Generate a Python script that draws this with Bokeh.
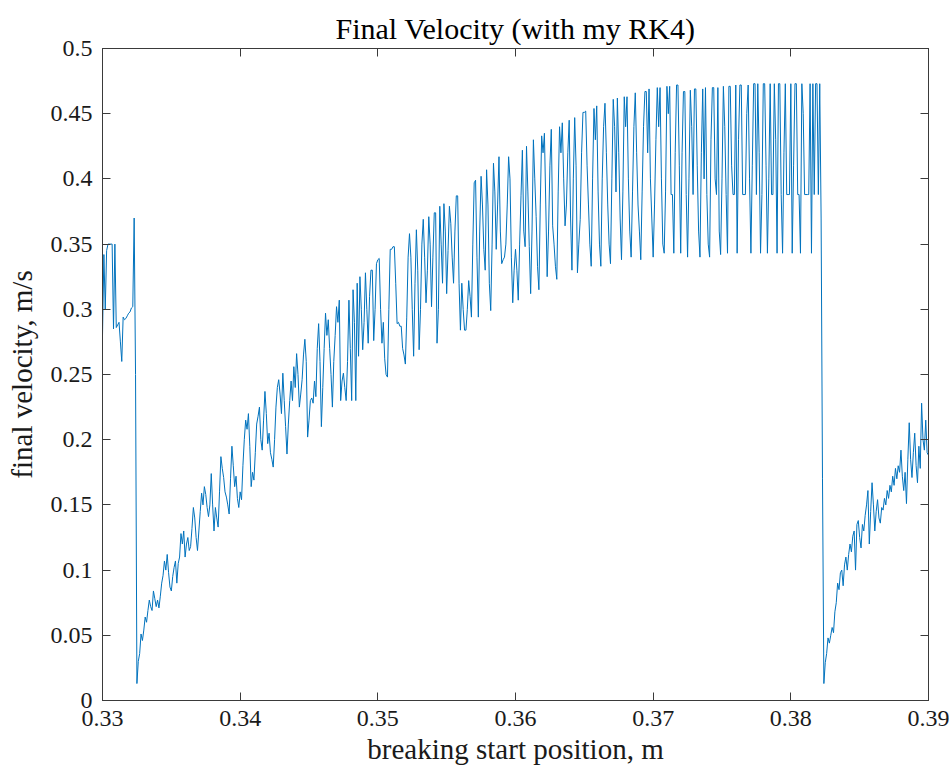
from bokeh.plotting import figure
from bokeh.models import Range1d, LinearAxis, FixedTicker, CustomJSTickFormatter
from bokeh.embed import file_html
from bokeh.resources import INLINE

# breaking start position grid (m): start and sampling step
x_start = 0.33
x_step = 0.0001

# final velocity (m/s) before the first collapse (0.3300 .. 0.3329)
v_before = [
    0.280, 0.342, 0.300, 0.345, 0.350, 0.350, 0.350, 0.350, 0.285, 0.350,
    0.286, 0.288, 0.290, 0.275, 0.260, 0.294, 0.292, 0.293, 0.295, 0.297,
    0.298, 0.301, 0.302, 0.370, 0.250, 0.013, 0.030, 0.036, 0.051, 0.046,
]

# rising band (0.3330 .. 0.3819)
v_rise = [
    0.054, 0.064, 0.060, 0.069, 0.077, 0.072, 0.069, 0.084, 0.078, 0.072,
    0.077, 0.071, 0.080, 0.090, 0.096, 0.107, 0.100, 0.112, 0.098, 0.087,
    0.084, 0.095, 0.102, 0.107, 0.090, 0.105, 0.110, 0.128, 0.120, 0.130,
    0.110, 0.120, 0.125, 0.115, 0.118, 0.132, 0.148, 0.140, 0.125, 0.115,
    0.130, 0.145, 0.159, 0.150, 0.164, 0.158, 0.148, 0.141, 0.150, 0.174,
    0.150, 0.130, 0.148, 0.140, 0.133, 0.160, 0.187, 0.178, 0.171, 0.160,
    0.156, 0.150, 0.143, 0.170, 0.195, 0.180, 0.164, 0.172, 0.155, 0.148,
    0.160, 0.154, 0.180, 0.200, 0.215, 0.208, 0.220, 0.195, 0.164, 0.175,
    0.169, 0.190, 0.212, 0.218, 0.225, 0.200, 0.192, 0.215, 0.237, 0.220,
    0.197, 0.205, 0.190, 0.185, 0.179, 0.200, 0.225, 0.240, 0.246, 0.235,
    0.220, 0.251, 0.230, 0.210, 0.189, 0.212, 0.230, 0.245, 0.230, 0.256,
    0.240, 0.266, 0.250, 0.225, 0.235, 0.246, 0.265, 0.277, 0.260, 0.202,
    0.215, 0.230, 0.232, 0.228, 0.245, 0.233, 0.270, 0.289, 0.260, 0.210,
    0.240, 0.270, 0.297, 0.280, 0.292, 0.270, 0.250, 0.225, 0.260, 0.280,
    0.302, 0.290, 0.307, 0.230, 0.245, 0.251, 0.240, 0.230, 0.260, 0.307,
    0.270, 0.230, 0.315, 0.290, 0.230, 0.320, 0.264, 0.325, 0.300, 0.269,
    0.290, 0.328, 0.300, 0.274, 0.310, 0.330, 0.330, 0.276, 0.300, 0.335,
    0.338, 0.339, 0.300, 0.274, 0.290, 0.262, 0.250, 0.248, 0.300, 0.346,
    0.346, 0.348, 0.348, 0.320, 0.289, 0.290, 0.287, 0.287, 0.270, 0.265,
    0.258, 0.294, 0.340, 0.358, 0.340, 0.300, 0.264, 0.320, 0.361, 0.330,
    0.269, 0.300, 0.350, 0.369, 0.340, 0.305, 0.330, 0.371, 0.350, 0.302,
    0.340, 0.374, 0.374, 0.274, 0.300, 0.379, 0.350, 0.320, 0.381, 0.360,
    0.312, 0.345, 0.379, 0.366, 0.340, 0.320, 0.360, 0.387, 0.387, 0.320,
    0.284, 0.320, 0.300, 0.284, 0.284, 0.300, 0.322, 0.310, 0.294, 0.350,
    0.397, 0.399, 0.340, 0.294, 0.360, 0.402, 0.380, 0.346, 0.330, 0.407,
    0.380, 0.320, 0.299, 0.350, 0.412, 0.390, 0.346, 0.380, 0.417, 0.360,
    0.335, 0.338, 0.340, 0.350, 0.380, 0.417, 0.400, 0.340, 0.305, 0.330,
    0.346, 0.330, 0.307, 0.350, 0.387, 0.422, 0.360, 0.348, 0.425, 0.390,
    0.348, 0.312, 0.360, 0.430, 0.400, 0.371, 0.333, 0.315, 0.380, 0.433,
    0.420, 0.435, 0.380, 0.325, 0.360, 0.410, 0.438, 0.364, 0.350, 0.333,
    0.323, 0.390, 0.440, 0.420, 0.443, 0.400, 0.364, 0.380, 0.420, 0.445,
    0.370, 0.330, 0.400, 0.447, 0.410, 0.328, 0.350, 0.369, 0.420, 0.451,
    0.451, 0.452, 0.410, 0.380, 0.350, 0.333, 0.400, 0.454, 0.430, 0.456,
    0.390, 0.350, 0.333, 0.400, 0.440, 0.458, 0.420, 0.380, 0.350, 0.335,
    0.400, 0.461, 0.440, 0.390, 0.462, 0.420, 0.370, 0.338, 0.390, 0.463,
    0.440, 0.463, 0.400, 0.360, 0.340, 0.390, 0.440, 0.466, 0.420, 0.380,
    0.360, 0.338, 0.390, 0.440, 0.467, 0.467, 0.420, 0.469, 0.400, 0.370,
    0.340, 0.380, 0.430, 0.470, 0.440, 0.470, 0.400, 0.350, 0.343, 0.390,
    0.471, 0.450, 0.471, 0.388, 0.388, 0.343, 0.420, 0.472, 0.472, 0.410,
    0.343, 0.420, 0.467, 0.467, 0.388, 0.340, 0.400, 0.468, 0.440, 0.388,
    0.469, 0.469, 0.410, 0.360, 0.340, 0.420, 0.469, 0.400, 0.470, 0.388,
    0.350, 0.340, 0.430, 0.470, 0.470, 0.400, 0.388, 0.470, 0.360, 0.342,
    0.400, 0.471, 0.440, 0.388, 0.343, 0.471, 0.471, 0.410, 0.388, 0.388,
    0.472, 0.343, 0.430, 0.472, 0.472, 0.388, 0.388, 0.388, 0.450, 0.472,
    0.400, 0.343, 0.410, 0.473, 0.473, 0.388, 0.473, 0.420, 0.343, 0.388,
    0.473, 0.473, 0.410, 0.343, 0.400, 0.473, 0.388, 0.388, 0.473, 0.430,
    0.343, 0.473, 0.473, 0.388, 0.343, 0.420, 0.473, 0.388, 0.388, 0.388,
    0.473, 0.343, 0.410, 0.473, 0.473, 0.388, 0.388, 0.343, 0.473, 0.450,
    0.388, 0.388, 0.388, 0.388, 0.473, 0.343, 0.473, 0.388, 0.473, 0.473,
]

# second collapse and recovery (0.3820 .. 0.3900)
v_after = [
    0.388, 0.473, 0.370, 0.170, 0.013,
    0.029, 0.036, 0.048, 0.044, 0.050,
    0.056, 0.052, 0.068, 0.075, 0.090, 0.085, 0.098, 0.100, 0.088, 0.104,
    0.110, 0.100, 0.112, 0.120, 0.114, 0.126, 0.130, 0.100, 0.135, 0.138,
    0.125, 0.117, 0.135, 0.130, 0.142, 0.150, 0.161, 0.120, 0.145, 0.167,
    0.150, 0.130, 0.145, 0.154, 0.140, 0.136, 0.148, 0.146, 0.155, 0.150,
    0.161, 0.155, 0.165, 0.160, 0.172, 0.165, 0.178, 0.170, 0.180, 0.175,
    0.192, 0.172, 0.161, 0.175, 0.151, 0.185, 0.213, 0.185, 0.171, 0.190,
    0.205, 0.180, 0.167, 0.195, 0.178, 0.228, 0.200, 0.192, 0.215, 0.190,
    0.188,
]

velocity = v_before + v_rise + v_after
position = [round(x_start + i * x_step, 5) for i in range(len(velocity))]

x_ticks = [0.33, 0.34, 0.35, 0.36, 0.37, 0.38, 0.39]
x_tick_labels = ["0.33", "0.34", "0.35", "0.36", "0.37", "0.38", "0.39"]
y_ticks = [0, 0.05, 0.1, 0.15, 0.2, 0.25, 0.3, 0.35, 0.4, 0.45, 0.5]
y_tick_labels = ["0", "0.05", "0.1", "0.15", "0.2", "0.25", "0.3", "0.35", "0.4", "0.45", "0.5"]

FONT = "Liberation Serif"
TXT = "#1a1a1a"
AX = "#3a3a3a"

LOOKUP = """
for (let i = 0; i < tvals.length; i++) {
    if (Math.abs(tvals[i] - tick) < 1e-9) { return tlabs[i]; }
}
return '';
"""

p = figure(width=952, height=769, output_backend="svg", toolbar_location=None,
           x_range=Range1d(0.33, 0.39), y_range=Range1d(0, 0.5),
           min_border_left=102, min_border_right=24, min_border_top=48,
           min_border_bottom=69, title="Final Velocity (with my RK4)")
p.background_fill_color = "white"
p.border_fill_color = "white"
p.outline_line_color = AX
p.grid.visible = False

p.title.align = "center"
p.title.text_font = FONT
p.title.text_font_size = "30px"
p.title.text_font_style = "normal"
p.title.text_color = "#000000"
p.title.standoff = 8

p.line(position, velocity, line_color="#0072BD", line_width=1.0)

def style(ax, ticks, labels):
    ax.ticker = FixedTicker(ticks=ticks)
    ax.formatter = CustomJSTickFormatter(args=dict(tvals=ticks, tlabs=labels), code=LOOKUP)
    ax.major_tick_in = 8
    ax.major_tick_out = 0
    ax.minor_tick_line_color = None
    ax.axis_line_color = AX
    ax.major_tick_line_color = AX
    ax.major_label_text_font = FONT
    ax.major_label_text_font_size = "24px"
    ax.major_label_text_color = TXT
    ax.major_label_standoff = 10
    ax.axis_label_text_font = FONT
    ax.axis_label_text_font_size = "29px"
    ax.axis_label_text_font_style = "normal"
    ax.axis_label_text_color = TXT

style(p.xaxis[0], x_ticks, x_tick_labels)
style(p.yaxis[0], y_ticks, y_tick_labels)
p.xaxis[0].axis_label = "breaking start position, m"
p.yaxis[0].axis_label = "final velocity, m/s"
p.xaxis[0].axis_label_standoff = 4
p.yaxis[0].axis_label_standoff = 10

blank = "return ''"
top = LinearAxis(ticker=FixedTicker(ticks=x_ticks), formatter=CustomJSTickFormatter(code=blank),
                 major_tick_in=8, major_tick_out=0, minor_tick_line_color=None,
                 axis_line_color=AX, major_tick_line_color=AX,
                 major_label_text_font_size="1px", major_label_standoff=0)
right = LinearAxis(ticker=FixedTicker(ticks=y_ticks), formatter=CustomJSTickFormatter(code=blank),
                   major_tick_in=8, major_tick_out=0, minor_tick_line_color=None,
                   axis_line_color=AX, major_tick_line_color=AX,
                   major_label_text_font_size="1px", major_label_standoff=0)
p.add_layout(top, "above")
p.add_layout(right, "right")

open("out.html", "w").write(file_html(p, INLINE))
